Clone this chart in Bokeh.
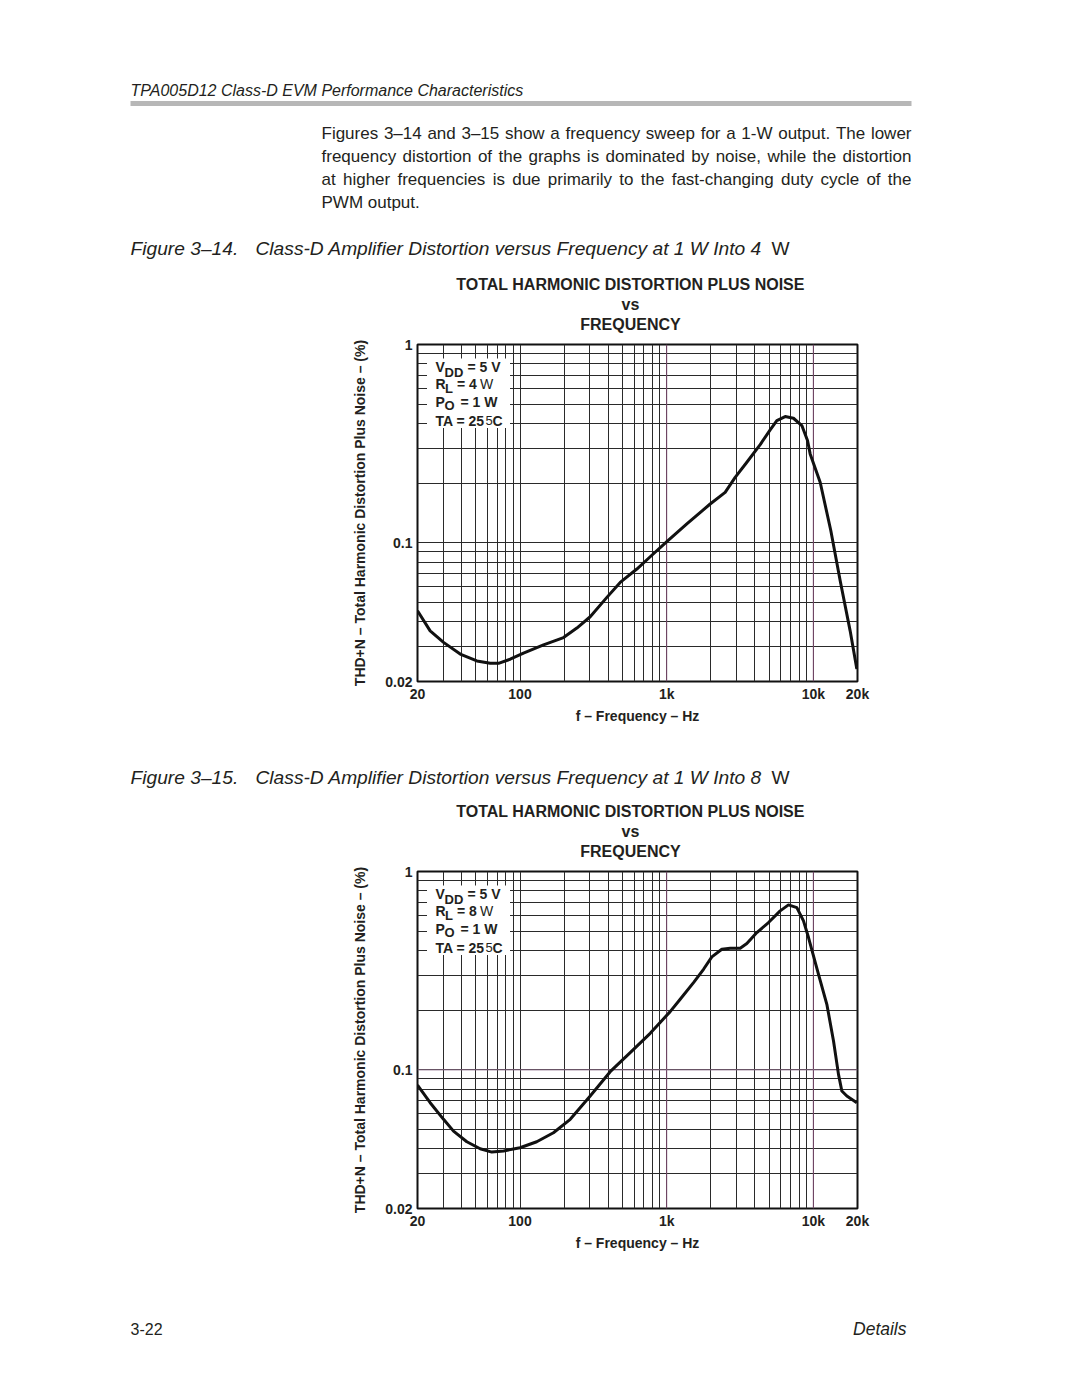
from bokeh.plotting import figure
from bokeh.models import Range1d, FixedTicker, Span
from bokeh.core.properties import value
from bokeh.embed import file_html
from bokeh.resources import INLINE

# ---------------- data ----------------
FREQ_4 = [20, 24.4, 30.1, 39.1, 50.8, 62.6, 71.3, 85.7, 105.6, 144.6, 198, 244, 301, 391,
          482, 626, 772, 1002, 1372, 1979, 2504, 2930, 3520, 4340, 5076, 5636, 6424, 7320,
          8348, 9124, 9514, 11130, 13160, 15240, 17820, 19790]
THD_4 = [0.0455, 0.036, 0.0315, 0.0275, 0.0254, 0.0247, 0.0247, 0.0259, 0.0278, 0.0306,
         0.0333, 0.0372, 0.0424, 0.0531, 0.0632, 0.0738, 0.0851, 0.1014, 0.1245, 0.157,
         0.1798, 0.214, 0.2548, 0.3129, 0.371, 0.4135, 0.4331, 0.4248, 0.3903, 0.3279,
         0.2808, 0.202, 0.1151, 0.0644, 0.036, 0.0231]

FREQ_8 = [20, 24.4, 30.1, 35.2, 43.4, 53.5, 64.2, 77.2, 100, 130, 169, 220, 301, 412, 564,
          772, 1056, 1236, 1524, 1783, 2032, 2377, 2710, 3170, 3520, 4118, 4946, 5940, 6768,
          7716, 8566, 9268, 10844, 12360, 13724, 14840, 15640, 16916, 19790]
THD_8 = [0.0838, 0.0683, 0.0563, 0.0491, 0.0434, 0.0400, 0.0385, 0.0390, 0.0405, 0.0434,
         0.0482, 0.0563, 0.0738, 0.0979, 0.1221, 0.1528, 0.1966, 0.2268, 0.2754, 0.3214,
         0.371, 0.4056, 0.4103, 0.4103, 0.4331, 0.4922, 0.5529, 0.633, 0.6786, 0.658,
         0.5637, 0.4645, 0.3033, 0.214, 0.1398, 0.0949, 0.0782, 0.0738, 0.0683]

X_TICKS = [20, 100, 1000, 10000, 20000]
X_TICK_LABELS = ["20", "100", "1k", "10k", "20k"]
Y_TICKS = [0.02, 0.1, 1]
Y_TICK_LABELS = ["0.02", "0.1", "1"]
X_GRID = [20, 30, 40, 50, 60, 70, 80, 90, 100, 200, 300, 400, 500, 600, 700, 800, 900,
          1000, 2000, 3000, 4000, 5000, 6000, 7000, 8000, 9000, 10000, 20000]
Y_GRID = [0.02, 0.03, 0.04, 0.05, 0.06, 0.07, 0.08, 0.09, 0.1, 0.2, 0.3, 0.4, 0.5, 0.6,
          0.7, 0.8, 0.9, 1]

PARAGRAPH = ["Figures 3\u201314 and 3\u201315 show a frequency sweep for a 1-W output. The lower",
             "frequency distortion of the graphs is dominated by noise, while the distortion",
             "at higher frequencies is due primarily to the fast-changing duty cycle of the",
             "PWM output."]

FONT = "Liberation Sans"
INK = "#231f20"
W = 1072
BL, BR = 417, 215          # chart borders -> frame x 417..857
FRAME_L, FRAME_R = 417.0, 857.0
FRAME_H = 337.0

# Liberation Sans (Arial-metric) advance widths, 1/1000 em, for justifying the paragraph
ADV = {" ": 278, "a": 556, "b": 556, "c": 500, "d": 556, "e": 556, "f": 278, "g": 556,
       "h": 556, "i": 222, "j": 222, "k": 500, "l": 222, "m": 833, "n": 556, "o": 556,
       "p": 556, "q": 556, "r": 333, "s": 500, "t": 278, "u": 556, "v": 500, "w": 722,
       "x": 500, "y": 500, "z": 500, ".": 278, ",": 278, "-": 333, "\u2013": 556,
       "F": 611, "P": 667, "W": 944, "M": 833, "T": 611}


def adv(s, size):
    return sum(ADV.get(ch, 556) for ch in s) * size / 1000.0


def fx(px):
    return 20 * 10 ** ((px - FRAME_L) / ((FRAME_R - FRAME_L) / 3.0))


def fy(dy):
    return 10 ** (-dy / (FRAME_H / 1.69897))


def text_fig(h):
    p = figure(width=W, height=h, x_range=Range1d(0, W), y_range=Range1d(h, 0),
               output_backend="svg", toolbar_location=None, min_border=0,
               x_axis_type=None, y_axis_type=None)
    p.outline_line_color = None
    p.grid.visible = False
    return p


def put(p, x, y, s, size, style="normal", align="left", color=INK):
    p.text(x=[x], y=[y], text=[s], text_font=value(FONT), text_font_size=size,
           text_font_style=style, text_align=align, text_baseline="middle",
           text_color=color)


def put_justified(p, x0, x1, y, s, size):
    words = s.split(" ")
    total = sum(adv(w, size) for w in words)
    gap = (x1 - x0 - total) / (len(words) - 1)
    xs, x = [], x0
    for w in words:
        xs.append(x)
        x += adv(w, size) + gap
    p.text(x=xs, y=[y] * len(words), text=words, text_font=value(FONT),
           text_font_size="%gpx" % size, text_align="left", text_baseline="middle",
           text_color=INK)


def chart_titles(p, y0):
    put(p, 630, y0, "TOTAL HARMONIC DISTORTION PLUS NOISE", "16px", "bold", "center")
    put(p, 630, y0 + 20, "vs", "16px", "bold", "center")
    put(p, 630, y0 + 40, "FREQUENCY", "16px", "bold", "center")


def caption(p, y, num, ohms):
    put(p, 130, y, "Figure 3\u2013%s." % num, "19.2px", "italic")
    put(p, 255, y, "Class-D Amplifier Distortion versus Frequency at 1 W Into %s" % ohms,
        "19.2px", "italic")
    put(p, 771, y, "W", "19.2px", "normal")


def chart(freq, thd, rl):
    p = figure(width=W, height=398, x_axis_type="log", y_axis_type="log",
               x_range=Range1d(20, 20000), y_range=Range1d(0.02, 1),
               output_backend="svg", toolbar_location=None,
               min_border_left=BL, min_border_right=BR, min_border_top=10,
               min_border_bottom=51)
    p.outline_line_color = "#111111"
    p.outline_line_width = 2
    p.xaxis.ticker = FixedTicker(ticks=X_TICKS)
    p.xaxis.major_label_overrides = {t: s for t, s in zip(X_TICKS, X_TICK_LABELS)}
    p.yaxis.ticker = FixedTicker(ticks=Y_TICKS)
    p.yaxis.major_label_overrides = {t: s for t, s in zip(Y_TICKS, Y_TICK_LABELS)}
    p.xgrid.ticker = FixedTicker(ticks=X_GRID)
    p.ygrid.ticker = FixedTicker(ticks=Y_GRID)
    for g in (p.xgrid, p.ygrid):
        g.grid_line_color = "#2a2a2a"
        g.grid_line_width = 1
        g.grid_line_alpha = 1
    for ax in (p.xaxis, p.yaxis):
        ax.axis_line_color = None
        ax.major_tick_line_color = None
        ax.minor_tick_line_color = None
        ax.major_tick_out = 0
        ax.major_tick_in = 0
        ax.minor_tick_out = 0
        ax.minor_tick_in = 0
        ax.major_label_text_font = FONT
        ax.major_label_text_font_style = "bold"
        ax.major_label_text_font_size = "14px"
        ax.major_label_text_color = INK
        ax.axis_label_text_font = FONT
        ax.axis_label_text_font_style = "bold"
        ax.axis_label_text_font_size = "14px"
        ax.axis_label_text_color = INK
    p.xaxis.axis_label = "f \u2013 Frequency \u2013 Hz"
    p.yaxis.axis_label = "THD+N \u2013 Total Harmonic Distortion Plus Noise \u2013 (%)"
    p.xaxis.major_label_standoff = 4
    p.xaxis.axis_label_standoff = 3
    p.yaxis.major_label_standoff = 5
    p.yaxis.axis_label_standoff = 14

    for f in (1000, 10000):
        p.add_layout(Span(location=f, dimension="height", line_color="#7d4c70",
                          line_width=1, level="underlay"))

    # white box for the test conditions
    p.quad(left=[fx(426.5)], right=[fx(509.5)], top=[fy(14)], bottom=[fy(83.5)],
           fill_color="white", line_color=None)

    def lab(px, dy, s, size="14px", style="bold"):
        p.text(x=[fx(px)], y=[fy(dy)], text=[s], text_font=value(FONT),
               text_font_size=size, text_font_style=style, text_align="left",
               text_baseline="middle", text_color=INK)

    lab(435, 22, "V")
    lab(444, 27.5, "DD", "13px")
    lab(467, 22, "= 5 V")
    lab(435, 39.3, "R")
    lab(444.5, 43.7, "L", "13px")
    lab(456.5, 39.3, "= " + rl)
    lab(479.5, 39.3, "W", "14px", "normal")
    lab(435, 57, "P")
    lab(444, 61.3, "O", "13px")
    lab(460, 57, "= 1 W")
    lab(435, 76, "TA = 25")
    lab(485, 76, "5", "13px", "normal")
    lab(492, 76, "C")

    p.line(freq, thd, line_color="#111111", line_width=3, line_join="round")
    return p


# ---------------- page ----------------
t1 = text_fig(334)
put(t1, 130, 90, "TPA005D12 Class-D EVM Performance Characteristics", "16px", "italic")
t1.quad(left=[130], right=[911], top=[100.5], bottom=[105.5], fill_color="#b7b7b7",
        line_color=None)
for i, s in enumerate(PARAGRAPH):
    if i < len(PARAGRAPH) - 1:
        put_justified(t1, 321, 911, 133 + 23 * i, s, 17)
    else:
        put(t1, 321, 133 + 23 * i, s, "17px")
caption(t1, 248, "14", "4")
chart_titles(t1, 284)

c1 = chart(FREQ_4, THD_4, "4")

t2 = text_fig(129)
caption(t2, 45, "15", "8")
chart_titles(t2, 79)

c2 = chart(FREQ_8, THD_8, "8")
c2.add_layout(Span(location=0.1, dimension="width", line_color="#8a6a86",
                   line_width=1, level="underlay"))

t3 = text_fig(130)
put(t3, 130, 69, "3-22", "16px")
put(t3, 906, 69, "Details", "17.5px", "italic", "right")

open("out.html", "w").write(file_html([t1, c1, t2, c2, t3], INLINE))
